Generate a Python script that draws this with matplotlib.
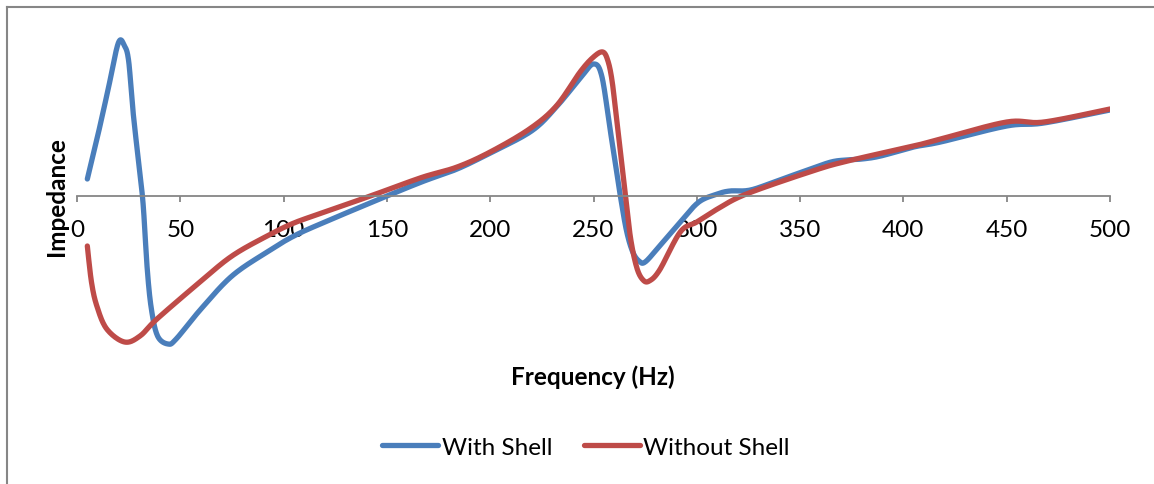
import numpy as np
import matplotlib
matplotlib.use("Agg")
import matplotlib.pyplot as plt
from matplotlib.lines import Line2D

plt.rcParams['font.family'] = ['Lato', 'DejaVu Sans']

# values (arbitrary impedance units)
freq_with = [5, 10, 15, 20, 23, 25, 27, 30, 32, 34, 36, 39, 44, 48, 60, 75, 92, 105,
             120, 150, 168, 184, 200, 220, 232, 244, 250, 254, 258, 260.5, 263, 266,
             269, 272, 275, 282, 292, 301, 310, 316, 326, 340, 355, 365, 372, 380, 389,
             405, 418, 450, 468, 500]
imp_with = [1.7, 6.0, 10.6, 15.3, 15.0, 13.5, 8.7, 3.0, -0.8, -7.3, -11.3, -14.0, -14.8,
            -14.3, -11.3, -8.0, -5.6, -4.0, -2.6, 0.0, 1.5, 2.7, 4.3, 6.5, 8.9, 11.9,
            13.2, 12.0, 6.7, 3.4, 0.0, -3.5, -5.6, -6.5, -6.6, -5.0, -2.6, -0.6, 0.2,
            0.5, 0.6, 1.6, 2.7, 3.4, 3.6, 3.7, 4.0, 4.9, 5.4, 7.0, 7.3, 8.6]

freq_without = [5, 7, 9.6, 14.4, 23, 30.5, 38.7, 59.5, 75, 92, 105, 120, 142, 150,
                167.5, 184, 200, 219, 232, 243.5, 250, 254.5, 257, 259, 261, 263,
                265.5, 268, 271, 274, 277, 282, 292, 300, 310, 324, 356, 373, 405, 418,
                450, 468, 500]
imp_without = [-5.0, -8.6, -11.0, -13.3, -14.6, -14.0, -12.3, -8.6, -6.0, -4.0, -2.7,
               -1.6, 0.0, 0.6, 1.9, 2.9, 4.4, 6.7, 9.0, 12.4, 13.9, 14.4, 13.5, 11.5,
               8.0, 4.5, 0.0, -4.3, -7.2, -8.4, -8.5, -7.4, -3.6, -2.6, -1.3, 0.2, 2.5,
               3.5, 5.0, 5.7, 7.4, 7.4, 8.7]

xticks = list(range(0, 501, 50))
blue = '#4A7EBB'
red = '#BE4B48'
gray = '#868686'


def smooth(x, y, n=20):
    # Catmull-Rom curve through the points, like Excel's smoothed line
    p = np.column_stack([x, y]).astype(float)
    p = np.vstack([p[0], p, p[-1]])
    out = []
    t = np.linspace(0, 1, n, endpoint=False)[:, None]
    for i in range(1, len(p) - 2):
        p0, p1, p2, p3 = p[i - 1], p[i], p[i + 1], p[i + 2]
        m1 = (p2 - p0) / 2
        m2 = (p3 - p1) / 2
        h00 = 2 * t**3 - 3 * t**2 + 1
        h10 = t**3 - 2 * t**2 + t
        h01 = -2 * t**3 + 3 * t**2
        h11 = t**3 - t**2
        out.append(h00 * p1 + h10 * m1 + h01 * p2 + h11 * m2)
    out.append(p[-2][None, :])
    c = np.vstack(out)
    return c[:, 0], c[:, 1]


W, H = 1154, 485
fs = 17.5
fig = plt.figure(figsize=(W / 100, H / 100), dpi=100)
ax = fig.add_axes([77 / W, 1 - 360 / H, (1110 - 77) / W, (360 - 25) / H])

sx, sy = smooth(freq_with, imp_with)
ax.plot(sx, sy, color=blue, lw=3.8, solid_capstyle='round', label='With Shell')
sx, sy = smooth(freq_without, imp_without)
ax.plot(sx, sy, color=red, lw=3.8, solid_capstyle='round', label='Without Shell')

ax.set_xlim(0, 500)
ax.set_ylim(-16.3, 17.2)
ax.set_xticks(xticks)
ax.set_xticklabels([str(v) for v in xticks])
ax.set_yticks([])
for s in ['left', 'right', 'top']:
    ax.spines[s].set_visible(False)
ax.spines['bottom'].set_position(('data', 0))
ax.spines['bottom'].set_color(gray)
ax.spines['bottom'].set_linewidth(1.3)
ax.tick_params(axis='x', direction='out', length=4.5, width=1.3, color=gray,
               labelsize=fs, pad=12, labelcolor='black')

fig.text(593 / W, 1 - 377 / H, 'Frequency (Hz)', ha='center', va='center',
         fontsize=fs, fontweight='bold')
fig.text(57 / W, 1 - 197 / H, 'Impedance', ha='center', va='center',
         rotation=90, fontsize=fs, fontweight='bold')

fig.legend(loc='center', bbox_to_anchor=(586 / W, 1 - 448 / H), ncol=2,
           frameon=False, fontsize=fs, handlelength=2.3, handletextpad=0.15,
           columnspacing=1.3)

# chart border (only top and left edges are in view)
fig.add_artist(Line2D([7 / W, 1], [1 - 8 / H, 1 - 8 / H], color=gray, lw=1.5))
fig.add_artist(Line2D([7 / W, 7 / W], [0, 1 - 8 / H], color=gray, lw=1.5))

fig.savefig('out.png', dpi=100)
